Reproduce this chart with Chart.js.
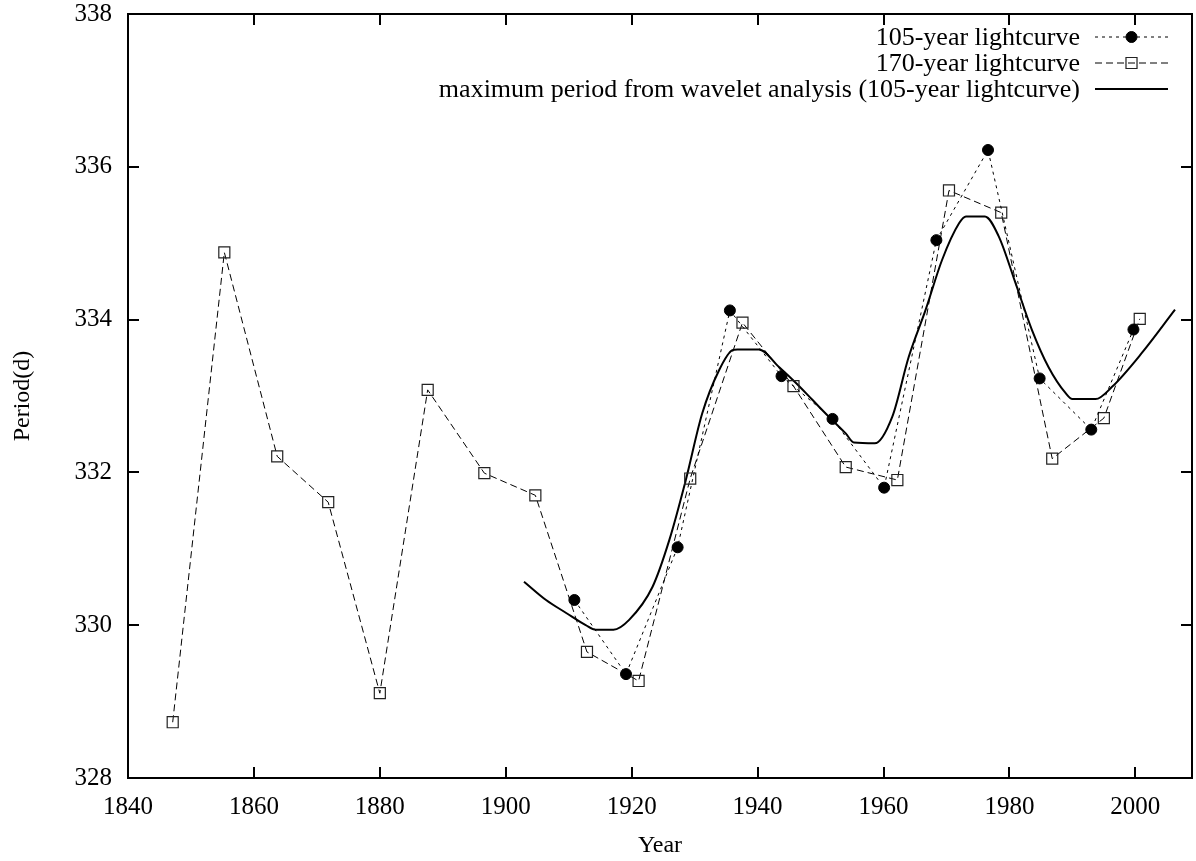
<!DOCTYPE html>
<html>
<head>
<meta charset="utf-8">
<title>Period vs Year</title>
<script src="https://cdn.jsdelivr.net/npm/chart.js@4.4.1/dist/chart.umd.min.js"></script>
<style>
  html, body { margin: 0; padding: 0; background: #fff; }
  canvas { display: block; }
</style>
</head>
<body>
<canvas id="period-chart" width="1196" height="861"></canvas>
<script>
// 105-year lightcurve
const years105 = [1910.9, 1919.1, 1927.3, 1935.6, 1943.8, 1951.9, 1960.1, 1968.4, 1976.6, 1984.8, 1993.0, 1999.7];
const period105 = [330.33, 329.36, 331.02, 334.12, 333.26, 332.70, 331.80, 335.04, 336.22, 333.23, 332.56, 333.87];

// 170-year lightcurve
const years170 = [1847.1, 1855.3, 1863.7, 1871.8, 1880.0, 1887.6, 1896.6, 1904.7, 1912.9, 1921.1,
                  1929.3, 1937.6, 1945.7, 1954.0, 1962.2, 1970.4, 1978.7, 1986.8, 1995.0, 2000.7];
const period170 = [328.73, 334.88, 332.21, 331.61, 329.11, 333.08, 331.99, 331.70, 329.65, 329.27,
                   331.92, 333.96, 333.13, 332.07, 331.90, 335.69, 335.40, 332.18, 332.71, 334.01];

// maximum period from wavelet analysis
const waveletYears = [1902.9, 1906.4, 1909.6, 1912.7, 1914.3, 1917.1, 1919.6, 1923.3, 1926.0, 1928.6,
                      1931.2, 1933.9, 1936.0, 1936.8, 1940.2, 1943.4, 1946.1, 1948.7, 1951.3, 1954.0,
                      1955.3, 1958.6, 1961.4, 1964.0, 1966.7, 1969.3, 1972.0, 1973.1, 1976.1, 1978.3,
                      1981.0, 1983.6, 1986.2, 1988.9, 1990.0, 1993.7, 1996.3, 2001.0, 2006.3];
const waveletPeriod = [330.57, 330.33, 330.16, 330.00, 329.94, 329.94, 330.07, 330.50, 331.12, 331.90,
                       332.77, 333.34, 333.60, 333.61, 333.61, 333.38, 333.17, 332.95, 332.73, 332.51,
                       332.39, 332.38, 332.73, 333.51, 334.13, 334.78, 335.26, 335.35, 335.35, 335.09,
                       334.47, 333.86, 333.38, 333.04, 332.96, 332.96, 333.12, 333.56, 334.13];

const xTicks = [1840, 1860, 1880, 1900, 1920, 1940, 1960, 1980, 2000];
const yTicks = [328, 330, 332, 334, 336, 338];

const SERIF = "'Liberation Serif', 'Times New Roman', serif";
const TICK_FONT = { family: SERIF, size: 25 };
const TITLE_FONT = { family: SERIF, size: 24 };
const KEY_FONT_SIZE = 26;

function toPoints(xs, ys) {
    return xs.map((x, i) => ({ x: x, y: ys[i] }));
}

// box around the plot with inward ticks on all four sides
const framePlugin = {
    id: 'frame',
    afterDatasetsDraw(chart) {
        const { ctx, chartArea: a, scales: { x, y } } = chart;
        ctx.save();
        ctx.strokeStyle = '#000';
        ctx.lineWidth = 2;
        ctx.strokeRect(a.left, a.top, a.right - a.left, a.bottom - a.top);
        ctx.beginPath();
        xTicks.forEach(v => {
            const px = Math.round(x.getPixelForValue(v));
            ctx.moveTo(px, a.bottom); ctx.lineTo(px, a.bottom - 11);
            ctx.moveTo(px, a.top); ctx.lineTo(px, a.top + 11);
        });
        yTicks.forEach(v => {
            const py = Math.round(y.getPixelForValue(v));
            ctx.moveTo(a.left, py); ctx.lineTo(a.left + 11, py);
            ctx.moveTo(a.right, py); ctx.lineTo(a.right - 11, py);
        });
        ctx.stroke();
        ctx.restore();
    }
};

// key in the top right corner: text first, line sample on the right
const keyPlugin = {
    id: 'key',
    afterDraw(chart) {
        const { ctx } = chart;
        const textRight = 1080, lineStart = 1095, lineEnd = 1168;
        ctx.save();
        ctx.font = KEY_FONT_SIZE + 'px ' + SERIF;
        ctx.textAlign = 'right';
        ctx.textBaseline = 'middle';
        chart.data.datasets.forEach((ds, i) => {
            const rowY = 37 + i * 26;
            ctx.fillStyle = '#000';
            ctx.fillText(ds.label, textRight, rowY + 1);
            ctx.strokeStyle = '#000';
            ctx.lineWidth = ds.borderWidth;
            ctx.setLineDash(ds.borderDash || []);
            ctx.beginPath();
            ctx.moveTo(lineStart, rowY);
            ctx.lineTo(lineEnd, rowY);
            ctx.stroke();
            ctx.setLineDash([]);
            if (ds.pointRadius > 0) {
                ctx.fillStyle = ds.pointBackgroundColor;
                ctx.strokeStyle = ds.pointBorderColor;
                ctx.lineWidth = ds.pointBorderWidth;
                Chart.helpers.drawPoint(ctx, {
                    pointStyle: ds.pointStyle,
                    radius: ds.pointRadius,
                    borderWidth: ds.pointBorderWidth,
                    rotation: 0
                }, (lineStart + lineEnd) / 2, rowY);
            }
        });
        ctx.restore();
    }
};

new Chart(document.getElementById('period-chart'), {
    type: 'scatter',
    data: {
        datasets: [{
            label: '105-year lightcurve',
            data: toPoints(years105, period105),
            showLine: true,
            borderColor: '#000',
            borderWidth: 1,
            borderDash: [3, 4],
            pointStyle: 'circle',
            pointRadius: 5.5,
            pointBackgroundColor: '#000',
            pointBorderColor: '#000',
            pointBorderWidth: 1
        }, {
            label: '170-year lightcurve',
            data: toPoints(years170, period170),
            showLine: true,
            borderColor: '#000',
            borderWidth: 1,
            borderDash: [7, 4],
            pointStyle: 'rect',
            pointRadius: 7.8,
            pointBackgroundColor: 'rgba(0,0,0,0)',
            pointBorderColor: '#222',
            pointBorderWidth: 1.2
        }, {
            label: 'maximum period from wavelet analysis (105-year lightcurve)',
            data: toPoints(waveletYears, waveletPeriod),
            showLine: true,
            borderColor: '#000',
            borderWidth: 2,
            cubicInterpolationMode: 'monotone',
            pointRadius: 0
        }]
    },
    options: {
        responsive: false,
        animation: false,
        layout: {
            autoPadding: false,
            padding: { top: 14, right: 4, left: 0, bottom: 0 }
        },
        plugins: {
            legend: { display: false },
            tooltip: { enabled: false }
        },
        scales: {
            x: {
                type: 'linear',
                position: 'bottom',
                min: 1840,
                max: 2009,
                grid: { display: false },
                border: { display: false },
                afterBuildTicks: scale => { scale.ticks = xTicks.map(v => ({ value: v })); },
                afterFit: scale => {
                    scale.height = 83;
                    scale.paddingLeft = 0;
                    scale.paddingRight = 0;
                },
                ticks: {
                    color: '#000',
                    font: TICK_FONT,
                    padding: 6,
                    maxRotation: 0,
                    callback: v => String(v)
                },
                title: {
                    display: true,
                    text: 'Year',
                    color: '#000',
                    font: TITLE_FONT,
                    padding: { top: 0, bottom: 1 }
                }
            },
            y: {
                type: 'linear',
                min: 328,
                max: 338,
                grid: { display: false },
                border: { display: false },
                afterBuildTicks: scale => { scale.ticks = yTicks.map(v => ({ value: v })); },
                afterFit: scale => {
                    scale.width = 128;
                    scale.paddingTop = 0;
                    scale.paddingBottom = 0;
                },
                ticks: {
                    color: '#000',
                    font: TICK_FONT,
                    padding: 8,
                    callback: v => String(v)
                },
                title: {
                    display: true,
                    text: 'Period(d)',
                    color: '#000',
                    font: TITLE_FONT,
                    padding: { top: 8, bottom: 0 }
                }
            }
        }
    },
    plugins: [framePlugin, keyPlugin]
});
</script>
</body>
</html>
